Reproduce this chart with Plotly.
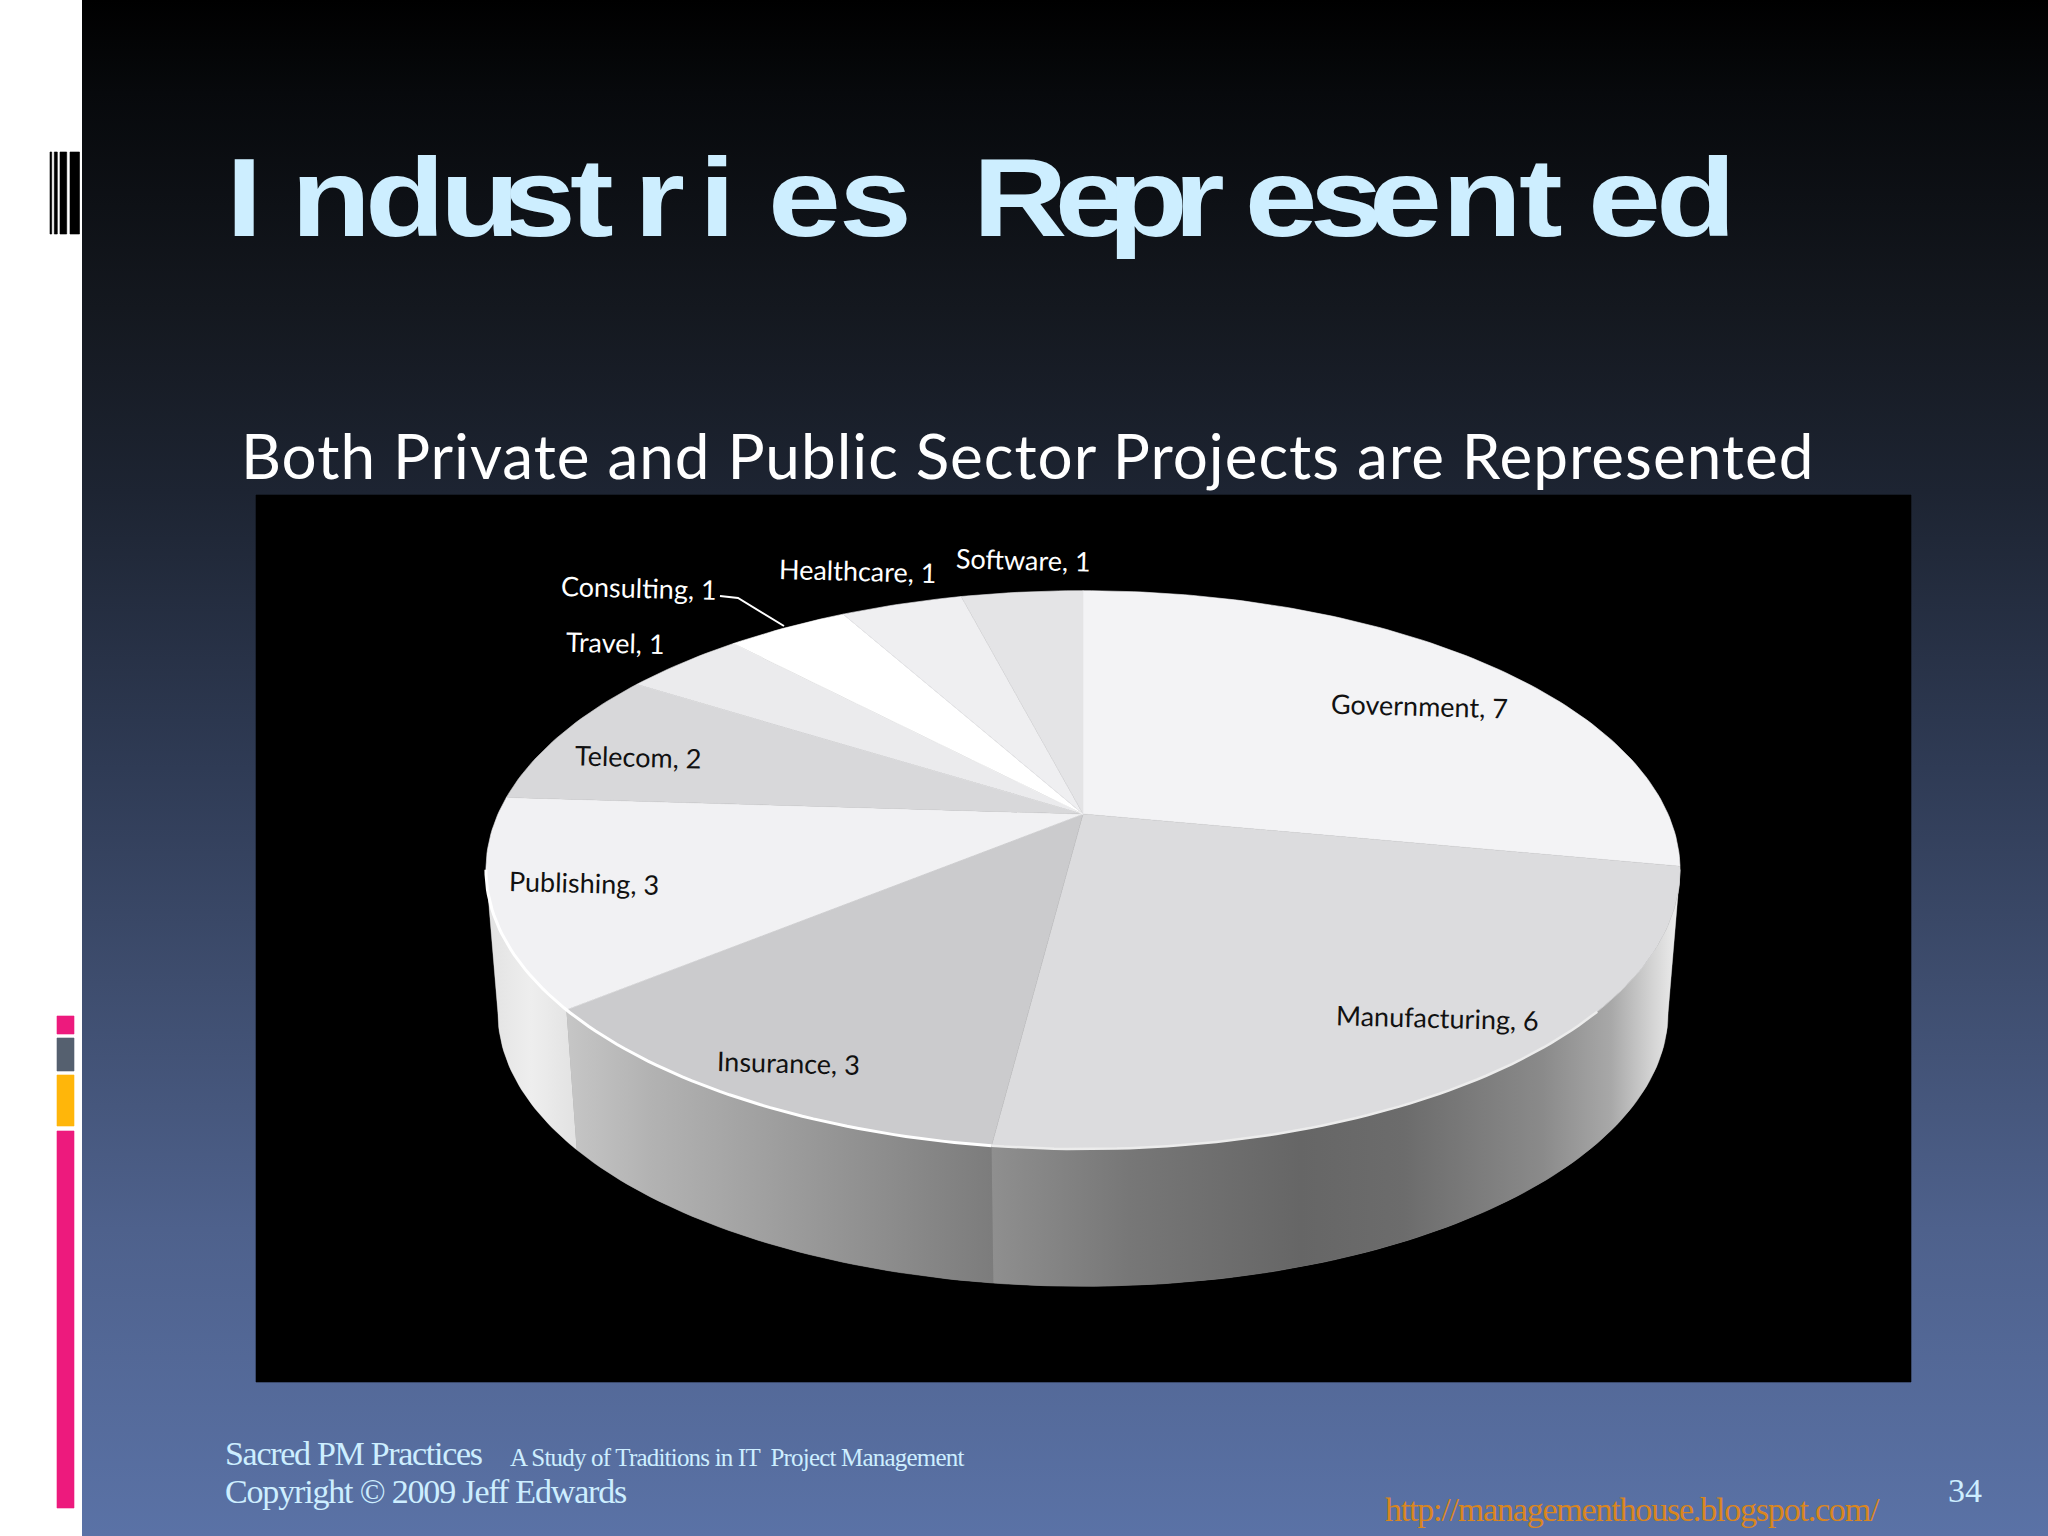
import numpy as np
import plotly.graph_objects as go

# ---- data ----
categories = ["Government", "Manufacturing", "Insurance", "Publishing", "Telecom",
              "Travel", "Consulting", "Healthcare", "Software"]
values = [7, 6, 3, 3, 2, 1, 1, 1, 1]
slice_colors = ["#f3f3f5", "#dcdcde", "#cbcbcd", "#f1f1f3", "#d8d8da",
                "#ebebed", "#ffffff", "#efeff1", "#e4e4e6"]
title_text = "Industries Represented"
title_pens = [224, 289, 363, 438, 501, 568, 632, 697, 766, 837, 910,
              971, 1053, 1106, 1172, 1243, 1308, 1367, 1440, 1517, 1586, 1654]
title_adv = dict(I=.278, n=.611, d=.611, u=.611, s=.556, t=.333, r=.389, i=.278, e=.556, R=.722, p=.611)
title_adv[" "] = .278
subtitle = "Both Private and Public Sector Projects are Represented"

# ---- layout constants (pixels of the slide) ----
W, H = 2048, 1536
CX, CY, A, B, K = 1083, 814, 585, 268, 0.2
DEPTH, SHRINK = 144, 0.98
TITLE_SIZE = 112
TITLE_STRETCH = 1.17
LIGHTBLUE = "#cdeeff"


def proj(theta_deg, depth=0.0, scale=1.0):
    t = np.radians(theta_deg)
    X, Y = np.sin(t), np.cos(t)
    d = 1 + K * Y
    return CX + scale * A * X / d, CY + depth - scale * B * Y / d


def arc(a, b):
    n = max(2, int(abs(b - a)) + 2)
    return np.linspace(a, b, n)


fig = go.Figure()


def poly(x, y, color=None, gradient=None):
    kw = dict(fillgradient=gradient) if gradient else dict(fillcolor=color)
    fig.add_trace(go.Scatter(x=list(x), y=list(y), mode="lines", fill="toself",
                             line=dict(width=0.6 if color else 0, color=color or "rgba(0,0,0,0)"),
                             hoverinfo="skip", showlegend=False, **kw))


def rect(x0, y0, x1, y1, color=None, gradient=None):
    poly([x0, x1, x1, x0, x0], [y0, y0, y1, y1, y0], color, gradient)


# slide
rect(0, 0, W, H, "#ffffff")
rect(82, 0, W, H, gradient=dict(type="vertical", start=0, stop=H, colorscale=[
    [0, "#000000"], [0.06, "#07090c"], [0.2, "#14181f"], [0.32, "#1d2432"],
    [0.5, "#2f3b55"], [0.64, "#3e4d6e"], [0.8, "#4e618c"], [1, "#5a72a6"]]))
# decorations
for bx0, bx1 in [(50, 51.7), (54.3, 57.3), (60, 66.7), (70, 79.5)]:
    rect(bx0, 152, bx1, 234, "#000000")
for by0, by1, col in [(1016, 1034, "#ed1a7d"), (1038, 1071, "#55606f"),
                      (1075, 1126, "#ffb60a"), (1131, 1508, "#ed1a7d")]:
    rect(57, by0, 74, by1, col)
# chart panel
rect(256, 495, 1911, 1382, "#000000")

# pie walls (visible front part)
total = sum(values)
edges = np.cumsum([0] + values) / total * 360
vis0, vis1 = 101.5, 258.5
tx, ty = proj(arc(vis0, vis1))
bx, by = proj(arc(vis1, vis0), DEPTH, SHRINK)
poly(np.r_[tx, bx, tx[0]], np.r_[ty, by, ty[0]], "#8a8a8a")
wall_scales = {
    "Manufacturing": [[0, "#8f8f8f"], [0.2, "#777777"], [0.45, "#666666"], [0.6, "#6c6c6c"],
                      [0.8, "#8a8a8a"], [0.9, "#a8a8a8"], [0.96, "#d4d4d4"], [1, "#efefef"]],
    "Insurance": [[0, "#c6c6c6"], [0.2, "#b2b2b2"], [0.58, "#989898"], [1, "#7c7c7c"]],
    "Publishing": [[0, "#e2e2e2"], [0.5, "#eeeeee"], [1, "#e2e2e2"]],
}
for name, scale in wall_scales.items():
    i = categories.index(name)
    a0, a1 = max(edges[i], vis0), min(edges[i + 1], vis1)
    tx, ty = proj(arc(a0, a1))
    bx, by = proj(arc(a1, a0), DEPTH, SHRINK)
    xs = np.r_[tx, bx, tx[0]]
    ys = np.r_[ty, by, ty[0]]
    poly(xs, ys, gradient=dict(type="horizontal", start=float(xs.min()), stop=float(xs.max()), colorscale=scale))

# pie top
for i, col in enumerate(slice_colors):
    x, y = proj(arc(edges[i], edges[i + 1]))
    poly(np.r_[CX, x, CX], np.r_[CY, y, CY], col)

# bright rim along the front
for a0, a1, w, c in [(187.2, 258.5, 3, "#ffffff"), (130, 187.2, 2.5, "#ececec")]:
    x, y = proj(arc(a0, a1))
    fig.add_trace(go.Scatter(x=x, y=y, mode="lines", line=dict(color=c, width=w), hoverinfo="skip", showlegend=False))

# leader of "Consulting"
fig.add_trace(go.Scatter(x=[720, 738, 784], y=[596, 598, 626], mode="lines",
                         line=dict(color="#ffffff", width=2), hoverinfo="skip", showlegend=False))


def note(text, x, y, size, color, font="Liberation Serif", anchor="left", angle=0, weight=None):
    fig.add_annotation(x=x, y=y, text=text, showarrow=False, xanchor=anchor, yanchor="middle",
                       textangle=angle, font=dict(family=font, size=size, color=color, weight=weight), align="left")


def spaced(text, ls):
    return f'<span style="letter-spacing:{ls}px">{text}</span>'


# title: each letter advanced to its read position
parts = []
for i, ch in enumerate(title_text):
    ls = 0
    if i + 1 < len(title_pens):
        ls = (title_pens[i + 1] - title_pens[i]) / TITLE_STRETCH - title_adv[ch] * TITLE_SIZE
    parts.append(f'<span style="letter-spacing:{ls:.1f}px">{ch}</span>')
note("".join(parts), title_pens[0], 197, TITLE_SIZE, LIGHTBLUE, "Liberation Sans", weight=700)

note(spaced(subtitle, 1.0), 239, 455, 62, "#ffffff", "Lato")

# slice labels
label_pos = {"Government": (1329, 705, "#111111"), "Manufacturing": (1334, 1017, "#111111"),
             "Insurance": (715, 1062, "#111111"), "Publishing": (507, 882, "#111111"),
             "Telecom": (573, 756, "#111111"), "Travel": (564, 642, "#ffffff"),
             "Consulting": (559, 587, "#ffffff"), "Healthcare": (777, 570, "#ffffff"),
             "Software": (954, 559, "#ffffff")}
for c, v in zip(categories, values):
    lx, ly, col = label_pos[c]
    note(f"{c}, {v}", lx, ly, 27, col, "Lato", angle=1.5)

# footer
note(spaced("Sacred PM Practices", -1.3), 223, 1453, 34, LIGHTBLUE)
note(spaced("A Study of Traditions in IT  Project Management", -0.8), 508, 1457, 25, LIGHTBLUE)
note(spaced("Copyright © 2009 Jeff Edwards", -1.17), 223, 1491, 34, LIGHTBLUE)
note(spaced("http://managementhouse.blogspot.com/", -1.2), 1383, 1509, 34, "#d9861f")
note("34", 1946, 1490, 34, LIGHTBLUE)

fig.update_layout(width=W, height=H, autosize=False, margin=dict(l=0, r=0, t=0, b=0),
                  paper_bgcolor="#ffffff", plot_bgcolor="#ffffff", showlegend=False,
                  xaxis=dict(range=[0, W], visible=False, fixedrange=True),
                  yaxis=dict(range=[H, 0], visible=False, fixedrange=True))
post = (
    "document.body.style.margin='0';document.body.style.overflow='hidden';"
    "var tt=document.querySelector('.annotation[data-index=\"0\"] text');"
    "if(tt){var x0=tt.getBBox().x;"
    f"tt.setAttribute('transform','translate('+x0+' 0) scale({TITLE_STRETCH} 1) translate('+(-x0)+' 0)');}}"
)
fig.write_html("out.html", config=dict(displayModeBar=False), post_script=post)
